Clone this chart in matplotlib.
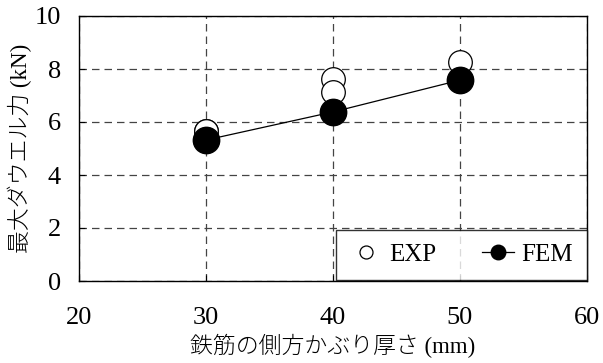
import matplotlib.pyplot as plt

plt.rcParams['font.family'] = ['Liberation Serif', 'Noto Sans CJK JP']

# data
exp_x = [30, 30, 40, 40, 50]
exp_y = [5.67, 5.67, 7.62, 7.14, 8.27]
fem_x = [30, 40, 50]
fem_y = [5.32, 6.38, 7.58]

fig = plt.figure(figsize=(6.03, 3.63), dpi=100)
ax = fig.add_axes([79 / 603, 1 - 281 / 363, (587 - 79) / 603, (281 - 16) / 363])

ax.plot(exp_x, exp_y, 'o', ms=17, mfc='white', mec='black', mew=0.9, label='EXP', zorder=3)
ax.plot(fem_x, fem_y, '-o', color='black', lw=0.9, ms=19, label='FEM', zorder=4)

ax.set_xlim(20, 60)
ax.set_ylim(0, 10)
ax.set_xticks([20, 30, 40, 50, 60])
ax.set_yticks([0, 2, 4, 6, 8, 10])
ax.grid(True, linestyle=(0, (6, 4)), color='#444444', linewidth=0.9)
ax.tick_params(direction='in', labelsize=19, length=4)
ax.tick_params(axis='x', pad=19)
ax.tick_params(axis='y', pad=13)
for s in ax.spines.values():
    s.set_linewidth(1.0)

ax.set_xlabel('鉄筋の側方かぶり厚さ (mm)', fontsize=16.5, labelpad=3, fontweight='light')
ax.set_ylabel('最大ダウエル力 (kN)', fontsize=16.5, labelpad=2, fontweight='light')

leg = ax.legend(ncol=2, loc='lower right', fontsize=18, frameon=True, fancybox=False,
                edgecolor='black', bbox_to_anchor=(1.0, 0.005), borderaxespad=0,
                handlelength=1.3, handletextpad=0.3, columnspacing=1.8,
                borderpad=0.55, markerscale=0.55)
leg.get_frame().set_linewidth(1.0)

fig.savefig('out.png', dpi=100)
